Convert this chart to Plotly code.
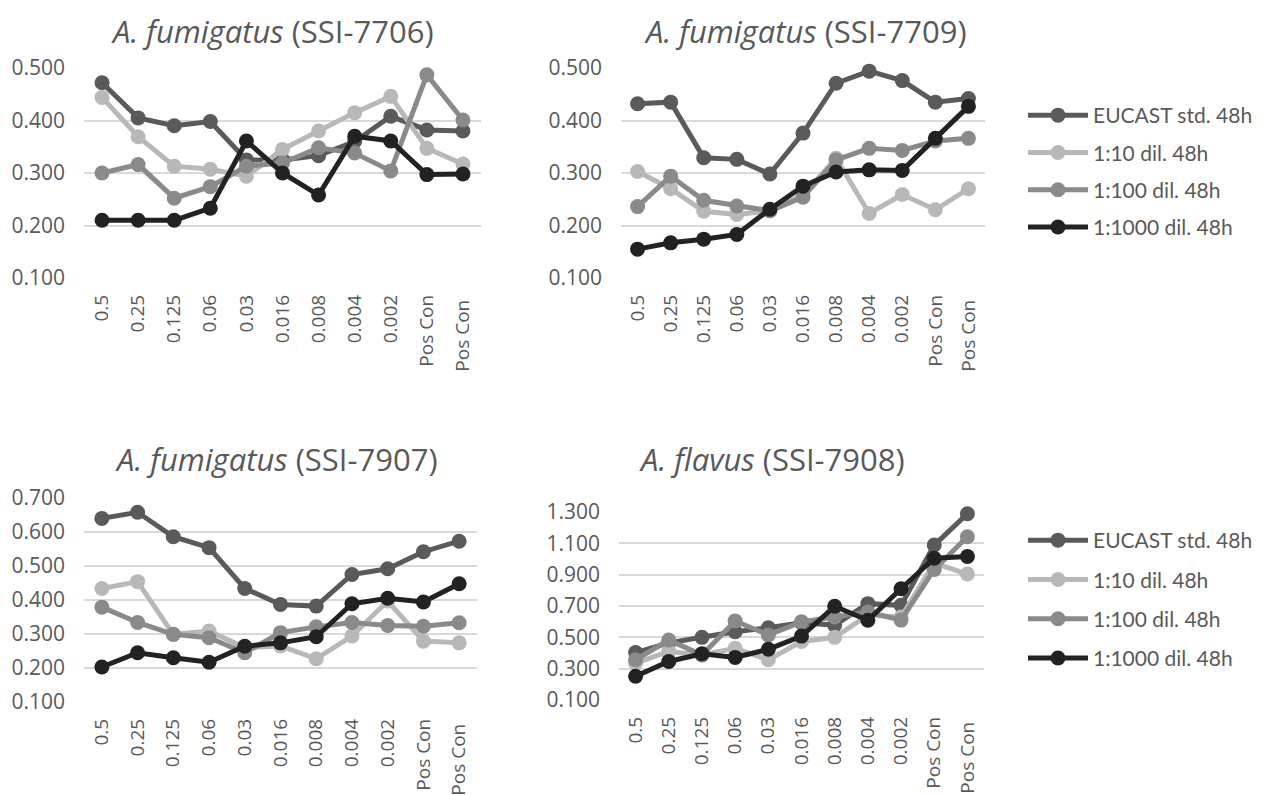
import plotly.graph_objects as go

categories = ["0.5", "0.25", "0.125", "0.06", "0.03", "0.016", "0.008", "0.004", "0.002", "Pos Con", "Pos Con "]
series_names = ["EUCAST std. 48h", "1:10 dil. 48h", "1:100 dil. 48h", "1:1000 dil. 48h"]
colors = ["#5a5a5a", "#b8b8b8", "#8a8a8a", "#222222"]

# Panel 1: A. fumigatus (SSI-7706)
p1_eucast = [0.472, 0.405, 0.390, 0.398, 0.325, 0.325, 0.333, 0.360, 0.408, 0.382, 0.380]
p1_d10 = [0.444, 0.369, 0.313, 0.307, 0.294, 0.345, 0.380, 0.415, 0.446, 0.347, 0.317]
p1_d100 = [0.300, 0.316, 0.252, 0.274, 0.313, 0.319, 0.348, 0.338, 0.304, 0.487, 0.401]
p1_d1000 = [0.210, 0.210, 0.210, 0.233, 0.361, 0.300, 0.258, 0.370, 0.361, 0.297, 0.298]

# Panel 2: A. fumigatus (SSI-7709)
p2_eucast = [0.432, 0.435, 0.329, 0.326, 0.298, 0.376, 0.471, 0.494, 0.476, 0.435, 0.442]
p2_d10 = [0.303, 0.270, 0.227, 0.221, 0.228, 0.258, 0.328, 0.223, 0.259, 0.230, 0.270]
p2_d100 = [0.236, 0.294, 0.248, 0.237, 0.228, 0.254, 0.325, 0.347, 0.343, 0.361, 0.366]
p2_d1000 = [0.155, 0.167, 0.174, 0.183, 0.231, 0.275, 0.302, 0.306, 0.305, 0.366, 0.427]

# Panel 3: A. fumigatus (SSI-7907)
p3_eucast = [0.640, 0.658, 0.586, 0.554, 0.434, 0.387, 0.382, 0.475, 0.492, 0.542, 0.573]
p3_d10 = [0.434, 0.454, 0.299, 0.309, 0.260, 0.265, 0.227, 0.294, 0.397, 0.279, 0.274]
p3_d100 = [0.379, 0.334, 0.299, 0.289, 0.245, 0.304, 0.321, 0.334, 0.325, 0.323, 0.333]
p3_d1000 = [0.203, 0.245, 0.230, 0.217, 0.264, 0.274, 0.292, 0.389, 0.405, 0.394, 0.448]

# Panel 4: A. flavus (SSI-7908)
p4_eucast = [0.403, 0.465, 0.500, 0.536, 0.561, 0.593, 0.578, 0.715, 0.704, 1.089, 1.289]
p4_d10 = [0.336, 0.410, 0.388, 0.430, 0.357, 0.473, 0.500, 0.641, 0.630, 0.974, 0.904]
p4_d100 = [0.357, 0.483, 0.388, 0.605, 0.515, 0.599, 0.630, 0.662, 0.610, 0.933, 1.142]
p4_d1000 = [0.252, 0.346, 0.395, 0.372, 0.424, 0.508, 0.698, 0.609, 0.810, 1.005, 1.016]

panels = [
    ("<i>A. fumigatus</i> (SSI-7706)", [p1_eucast, p1_d10, p1_d100, p1_d1000], [0.1, 0.5], 0.1, 0.1),
    ("<i>A. fumigatus</i> (SSI-7709)", [p2_eucast, p2_d10, p2_d100, p2_d1000], [0.1, 0.5], 0.1, 0.1),
    ("<i>A. fumigatus</i> (SSI-7907)", [p3_eucast, p3_d10, p3_d100, p3_d1000], [0.1, 0.7], 0.1, 0.1),
    ("<i>A. flavus</i> (SSI-7908)", [p4_eucast, p4_d10, p4_d100, p4_d1000], [0.1, 1.3], 0.1, 0.2),
]

OFF = 8  # page body margin
W, H = 1270 - OFF, 795 - OFF


def px(x):
    return (x - OFF) / W


def py(y):
    return 1 - (y - OFF) / H


# pixel boxes in reference coordinates: (left, right, top, bottom)
boxes = [(84, 481, 68, 278), (621, 985, 68, 278), (84, 477, 498, 702), (619, 984, 512, 700)]
title_pos = [(272, 31), (805, 31), (276, 459), (772, 459)]

fig = go.Figure()
layout = dict(
    width=W, height=H, margin=dict(l=0, r=0, t=0, b=0, pad=0), autosize=False,
    template="none",
    plot_bgcolor="white", paper_bgcolor="white",
    font=dict(family="Open Sans, sans-serif", color="#595959"),
    annotations=[],
)

for i, (title, data, yr, t0, dt) in enumerate(panels):
    n = i + 1
    xa = "xaxis" if n == 1 else f"xaxis{n}"
    ya = "yaxis" if n == 1 else f"yaxis{n}"
    xref = "x" if n == 1 else f"x{n}"
    yref = "y" if n == 1 else f"y{n}"
    l, r, t, b = boxes[i]
    layout[xa] = dict(
        domain=[px(l), px(r)], anchor=yref, type="category", automargin=False,
        range=[-0.5, 10.5], showgrid=False, showline=False, zeroline=False,
        tickangle=-90, tickfont=dict(size=19, color="#595959"), ticks="",
        ticklabelstandoff=12,
        categoryorder="array", categoryarray=categories,
    )
    layout[ya] = dict(
        domain=[py(b), py(t)], anchor=xref, range=yr, automargin=False,
        tick0=t0, dtick=dt, tickformat=".3f", showgrid=True, gridcolor="#d9d9d9",
        gridwidth=1.5, zeroline=False, showline=False,
        tickfont=dict(size=21, color="#595959"), ticks="", ticklabelstandoff=18,
    )
    tx, ty = title_pos[i]
    layout["annotations"].append(dict(
        text=title, x=px(tx), y=py(ty), xref="paper", yref="paper",
        showarrow=False, xanchor="center", yanchor="middle",
        font=dict(size=31, color="#595959", family="Open Sans, sans-serif"),
    ))
    legend_name = "legend" if n <= 2 else "legend2"
    for s, (name, vals, col) in enumerate(zip(series_names, data, colors)):
        fig.add_trace(go.Scatter(
            x=categories, y=vals, name=name, mode="lines+markers",
            line=dict(color=col, width=5), marker=dict(color=col, size=15),
            xaxis=xref, yaxis=yref, cliponaxis=False,
            showlegend=(n in (2, 4)), legend=legend_name,
            legendgroup=f"{legend_name}_{s}",
        ))

leg_common = dict(
    font=dict(size=21, color="#595959", family="Lato, sans-serif"),
    itemwidth=60, bgcolor="rgba(0,0,0,0)",
    xanchor="left", yanchor="top", traceorder="grouped",
)
layout["legend"] = dict(x=px(1023), y=py(95), tracegroupgap=7, **leg_common)
layout["legend2"] = dict(x=px(1023), y=py(520), tracegroupgap=9, **leg_common)

fig.update_layout(**layout)
fig.write_html("out.html")
